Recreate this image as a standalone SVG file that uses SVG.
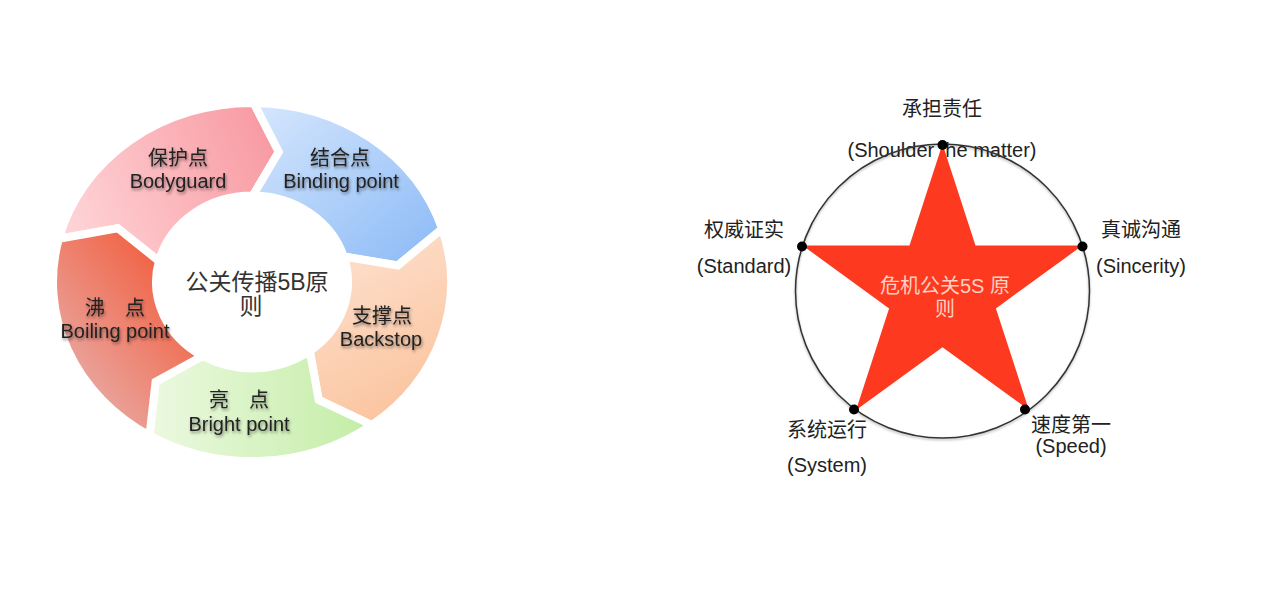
<svg xmlns="http://www.w3.org/2000/svg" width="1267" height="598" viewBox="0 0 1267 598">
<style>
text{font-family:"Liberation Sans","Noto Sans CJK SC",sans-serif;text-anchor:middle}
.lbl{font-size:20px;fill:#222;filter:url(#ts)}
.ctr{font-size:23px;fill:#333}
.slbl{font-size:20px;fill:#222}
.stxt{font-size:20px;fill:#ffd0c4}
.seg{stroke:#fff;stroke-width:8;stroke-linejoin:miter}
.dot{fill:#000}
</style>
<defs>
<filter id="ts" x="-20%" y="-40%" width="140%" height="180%">
<feDropShadow dx="1" dy="2" stdDeviation="1.5" flood-color="#000" flood-opacity="0.45"/>
</filter>
<filter id="cs" x="-10%" y="-10%" width="120%" height="120%">
<feDropShadow dx="0" dy="1.5" stdDeviation="1.2" flood-color="#000" flood-opacity="0.3"/>
</filter>
<linearGradient id="gPink" x1="0" y1="0.6" x2="1" y2="0.3"><stop offset="0" stop-color="#fed3d6"/><stop offset="1" stop-color="#f89aa2"/></linearGradient>
<linearGradient id="gBlue" x1="0" y1="0" x2="1" y2="1"><stop offset="0" stop-color="#d6e7fd"/><stop offset="1" stop-color="#8ab9f6"/></linearGradient>
<linearGradient id="gOrange" x1="0.3" y1="0" x2="0.7" y2="1"><stop offset="0" stop-color="#fde1cf"/><stop offset="1" stop-color="#fbc29b"/></linearGradient>
<linearGradient id="gGreen" x1="0" y1="0.5" x2="1" y2="0.5"><stop offset="0" stop-color="#ecf9e0"/><stop offset="1" stop-color="#c3eda6"/></linearGradient>
<linearGradient id="gRed" x1="1" y1="0.1" x2="0.2" y2="1"><stop offset="0" stop-color="#f3502c"/><stop offset="1" stop-color="#e8b3b0"/></linearGradient>
</defs>
<rect width="1267" height="598" fill="#fff"/>

<g id="cycle5B">
<g id="seg-bodyguard">
<path class="seg" fill="url(#gPink)" d="M58.9,238.7 A199,179.1 0 0 1 253.7,102.9 L278.8,151.9 L252.8,195.6 A96,86.4 0 0 0 158.9,261.1 L117.7,228.2 Z"/>
<text class="lbl" x="178" y="165">保护点</text>
<text class="lbl" x="178" y="188">Bodyguard</text>
</g>
<g id="seg-binding">
<path class="seg" fill="url(#gBlue)" d="M253.7,102.9 A199,179.1 0 0 1 442.1,229.0 L397.8,265.4 L343.7,256.5 A96,86.4 0 0 0 252.8,195.6 L278.8,151.9 Z"/>
<text class="lbl" x="340" y="165">结合点</text>
<text class="lbl" x="341" y="188">Binding point</text>
</g>
<g id="seg-backstop">
<path class="seg" fill="url(#gOrange)" d="M442.1,229.0 A199,179.1 0 0 1 371.8,425.0 L318.7,399.9 L309.8,351.0 A96,86.4 0 0 0 343.7,256.5 L397.8,265.4 Z"/>
<text class="lbl" x="382" y="323">支撑点</text>
<text class="lbl" x="381" y="346">Backstop</text>
</g>
<g id="seg-bright">
<path class="seg" fill="url(#gGreen)" d="M371.8,425.0 A199,179.1 0 0 1 149.5,435.5 L155.6,381.8 L202.6,356.1 A96,86.4 0 0 0 309.8,351.0 L318.7,399.9 Z"/>
<text class="lbl" x="239" y="407">亮　点</text>
<text class="lbl" x="239" y="431">Bright point</text>
</g>
<g id="seg-boiling">
<path class="seg" fill="url(#gRed)" d="M149.5,435.5 A199,179.1 0 0 1 58.9,238.7 L117.7,228.2 L158.9,261.1 A96,86.4 0 0 0 202.6,356.1 L155.6,381.8 Z"/>
<text class="lbl" x="115" y="315">沸　点</text>
<text class="lbl" x="115" y="338">Boiling point</text>
</g>
<g id="center5B">
<text class="ctr" x="257" y="290">公关传播5B原</text>
<text class="ctr" x="251" y="314">则</text>
</g>
</g>

<g id="star5S">
<g id="labels5S">
<text class="slbl" x="942" y="116">承担责任</text>
<text class="slbl" x="942" y="157">(Shoulder the matter)</text>
<text class="slbl" x="744" y="237">权威证实</text>
<text class="slbl" x="744" y="273">(Standard)</text>
<text class="slbl" x="1141" y="237">真诚沟通</text>
<text class="slbl" x="1141" y="273">(Sincerity)</text>
<text class="slbl" x="827" y="437">系统运行</text>
<text class="slbl" x="827" y="472">(System)</text>
<text class="slbl" x="1071" y="432">速度第一</text>
<text class="slbl" x="1071" y="453">(Speed)</text>
</g>
<g id="ring">
<circle cx="942.5" cy="291" r="147" fill="none" stroke="#333" stroke-width="1.5" filter="url(#cs)"/>
</g>
<g id="star">
<polygon fill="#fd3a1f" points="942.5,144 975.5,245.6 1082.3,245.6 995.9,308.4 1028.9,409.9 942.5,347.2 856.1,409.9 889.1,308.4 802.7,245.6 909.5,245.6"/>
<text class="stxt" x="945" y="293">危机公关5S 原</text>
<text class="stxt" x="945" y="316">则</text>
</g>
<g id="dots">
<circle class="dot" cx="942.5" cy="145" r="5"/>
<circle class="dot" cx="802" cy="246.5" r="5"/>
<circle class="dot" cx="1082.5" cy="246.5" r="5"/>
<circle class="dot" cx="854" cy="409.5" r="5"/>
<circle class="dot" cx="1025" cy="409.5" r="5"/>
</g>
</g>
</svg>
